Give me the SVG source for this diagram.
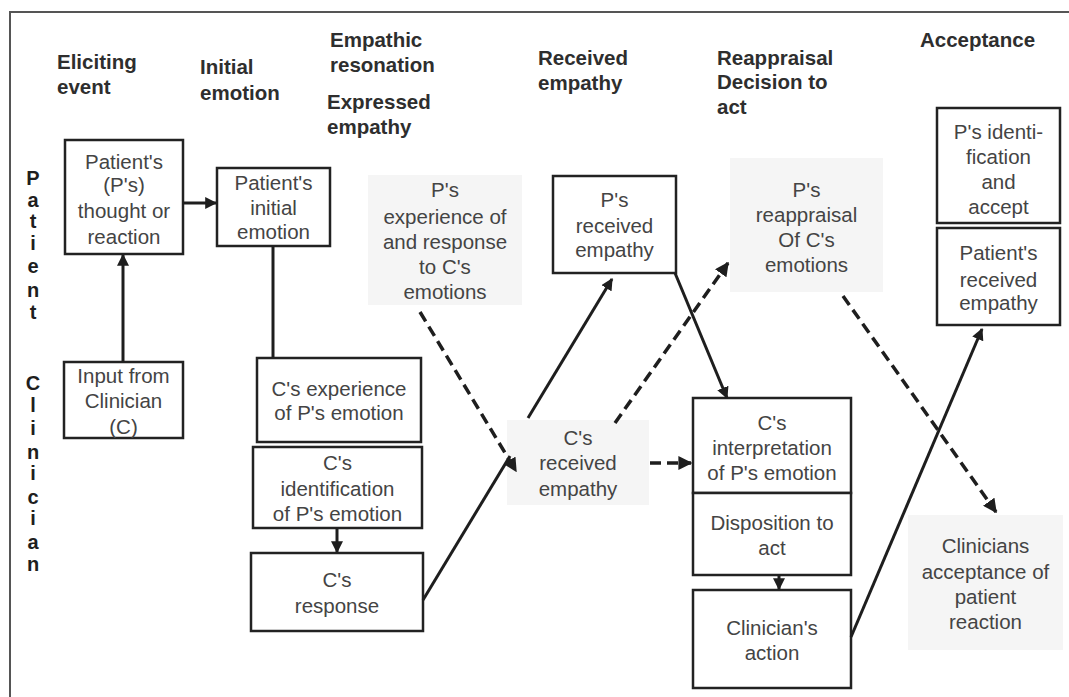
<svg xmlns="http://www.w3.org/2000/svg" width="1069" height="697" viewBox="0 0 1069 697">
<style>
.hd{font-family:"Liberation Sans",Arial,sans-serif;font-size:20.5px;font-weight:bold;fill:#2e2e2e}
.vt{font-family:"Liberation Sans",Arial,sans-serif;font-size:20px;font-weight:bold;fill:#1e1e1e;text-anchor:middle}
.t{font-family:"Liberation Sans",Arial,sans-serif;font-size:20.5px;fill:#444;text-anchor:middle}
.box{fill:#fff;stroke:#222;stroke-width:2.5}
.grey{fill:#f5f5f5;stroke:none}
.ln{fill:none;stroke:#1e1e1e;stroke-width:3}
.ds{fill:none;stroke:#1e1e1e;stroke-width:3.5;stroke-dasharray:11 6}
</style>
<defs>
<marker id="ah" viewBox="0 0 10 10" refX="9" refY="5" markerWidth="4" markerHeight="4" markerUnits="strokeWidth" orient="auto">
<path d="M0,0 L10,5 L0,10 z" fill="#1e1e1e"/>
</marker>
</defs>
<rect x="0" y="0" width="1069" height="697" fill="#fff"/>
<path d="M10,697 V12 H1069" fill="none" stroke="#555" stroke-width="2"/>

<g id="headers">
<text class="hd" x="57" y="69">Eliciting</text>
<text class="hd" x="57" y="94">event</text>
<text class="hd" x="200" y="74">Initial</text>
<text class="hd" x="200" y="100">emotion</text>
<text class="hd" x="330" y="47">Empathic</text>
<text class="hd" x="330" y="72">resonation</text>
<text class="hd" x="327" y="109">Expressed</text>
<text class="hd" x="327" y="134">empathy</text>
<text class="hd" x="538" y="65">Received</text>
<text class="hd" x="538" y="90">empathy</text>
<text class="hd" x="717" y="65">Reappraisal</text>
<text class="hd" x="717" y="89">Decision to</text>
<text class="hd" x="717" y="114">act</text>
<text class="hd" x="920" y="47">Acceptance</text>
</g>

<g id="lane-labels">
<text class="vt" x="33" y="185">P</text>
<text class="vt" x="33" y="207">a</text>
<text class="vt" x="33" y="228">t</text>
<text class="vt" x="33" y="250">i</text>
<text class="vt" x="33" y="273">e</text>
<text class="vt" x="33" y="297">n</text>
<text class="vt" x="33" y="319">t</text>
<text class="vt" x="33" y="390">C</text>
<text class="vt" x="33" y="412">l</text>
<text class="vt" x="33" y="435">i</text>
<text class="vt" x="33" y="459">n</text>
<text class="vt" x="33" y="480">i</text>
<text class="vt" x="33" y="504">c</text>
<text class="vt" x="33" y="525">i</text>
<text class="vt" x="33" y="549">a</text>
<text class="vt" x="33" y="571">n</text>
</g>

<g id="n-patient-thought">
<rect class="box" x="65" y="140" width="118" height="114"/>
<text class="t" x="124" y="169">Patient's</text>
<text class="t" x="124" y="192">(P's)</text>
<text class="t" x="124" y="218">thought or</text>
<text class="t" x="124" y="244">reaction</text>
</g>
<g id="n-initial-emotion">
<rect class="box" x="217" y="168" width="113" height="78"/>
<text class="t" x="273.5" y="190">Patient's</text>
<text class="t" x="273.5" y="215">initial</text>
<text class="t" x="273.5" y="239">emotion</text>
</g>
<g id="n-input-clinician">
<rect class="box" x="64" y="362" width="119" height="76"/>
<text class="t" x="123.5" y="383">Input from</text>
<text class="t" x="123.5" y="408">Clinician</text>
<text class="t" x="123.5" y="434">(C)</text>
</g>
<g id="n-c-experience">
<rect class="box" x="257" y="358" width="164" height="84"/>
<text class="t" x="339" y="396">C's experience</text>
<text class="t" x="339" y="420">of P's emotion</text>
</g>
<g id="n-c-identification">
<rect class="box" x="253" y="447" width="169" height="81"/>
<text class="t" x="337.5" y="470">C's</text>
<text class="t" x="337.5" y="496">identification</text>
<text class="t" x="337.5" y="521">of P's emotion</text>
</g>
<g id="n-c-response">
<rect class="box" x="251" y="553" width="172" height="78"/>
<text class="t" x="337" y="587">C's</text>
<text class="t" x="337" y="613">response</text>
</g>
<g id="n-p-experience">
<rect class="grey" x="368" y="175" width="154" height="130"/>
<text class="t" x="445" y="197">P's</text>
<text class="t" x="445" y="224">experience of</text>
<text class="t" x="445" y="249">and response</text>
<text class="t" x="445" y="274">to C's</text>
<text class="t" x="445" y="299">emotions</text>
</g>
<g id="n-p-received">
<rect class="box" x="553" y="176" width="123" height="97"/>
<text class="t" x="614.5" y="207">P's</text>
<text class="t" x="614.5" y="233">received</text>
<text class="t" x="614.5" y="257">empathy</text>
</g>
<g id="n-c-received">
<rect class="grey" x="507" y="420" width="142" height="85"/>
<text class="t" x="578" y="445">C's</text>
<text class="t" x="578" y="470">received</text>
<text class="t" x="578" y="496">empathy</text>
</g>
<g id="n-p-reappraisal">
<rect class="grey" x="730" y="158" width="153" height="134"/>
<text class="t" x="806.5" y="197">P's</text>
<text class="t" x="806.5" y="222">reappraisal</text>
<text class="t" x="806.5" y="247">Of C's</text>
<text class="t" x="806.5" y="272">emotions</text>
</g>
<g id="n-c-interpretation">
<rect class="box" x="693" y="398" width="158" height="95"/>
<text class="t" x="772" y="430">C's</text>
<text class="t" x="772" y="455">interpretation</text>
<text class="t" x="772" y="480">of P's emotion</text>
</g>
<g id="n-disposition">
<rect class="box" x="693" y="493" width="158" height="82"/>
<text class="t" x="772" y="530">Disposition to</text>
<text class="t" x="772" y="555">act</text>
</g>
<g id="n-clinician-action">
<rect class="box" x="693" y="590" width="158" height="98"/>
<text class="t" x="772" y="635">Clinician's</text>
<text class="t" x="772" y="660">action</text>
</g>
<g id="n-p-identification">
<rect class="box" x="937" y="108" width="123" height="115"/>
<text class="t" x="998.5" y="139">P's identi-</text>
<text class="t" x="998.5" y="164">fication</text>
<text class="t" x="998.5" y="189">and</text>
<text class="t" x="998.5" y="214">accept</text>
</g>
<g id="n-patient-received">
<rect class="box" x="937" y="228" width="123" height="97"/>
<text class="t" x="998.5" y="260">Patient's</text>
<text class="t" x="998.5" y="287">received</text>
<text class="t" x="998.5" y="310">empathy</text>
</g>
<g id="n-clinicians-acceptance">
<rect class="grey" x="908" y="515" width="155" height="135"/>
<text class="t" x="985.5" y="553">Clinicians</text>
<text class="t" x="985.5" y="579">acceptance of</text>
<text class="t" x="985.5" y="604">patient</text>
<text class="t" x="985.5" y="629">reaction</text>
</g>

<g id="connectors">
<line class="ln" x1="183" y1="203" x2="216" y2="203" marker-end="url(#ah)"/>
<line class="ln" x1="123" y1="362" x2="123" y2="255" marker-end="url(#ah)"/>
<line class="ln" x1="273" y1="246" x2="273" y2="358"/>
<line class="ln" x1="337" y1="528" x2="337" y2="552" marker-end="url(#ah)"/>
<line class="ln" x1="423" y1="600" x2="510" y2="456"/>
<line class="ds" x1="420" y1="312" x2="516" y2="471" marker-end="url(#ah)"/>
<line class="ln" x1="528" y1="418" x2="612" y2="279" marker-end="url(#ah)"/>
<line class="ln" x1="675" y1="273" x2="727" y2="398" marker-end="url(#ah)"/>
<line class="ds" x1="615" y1="423" x2="728" y2="263" marker-end="url(#ah)"/>
<line class="ds" x1="650" y1="463" x2="691" y2="463" marker-end="url(#ah)"/>
<line class="ds" x1="843" y1="296" x2="996" y2="512" marker-end="url(#ah)"/>
<line class="ln" x1="779" y1="575" x2="779" y2="589" marker-end="url(#ah)"/>
<line class="ln" x1="851" y1="637" x2="982" y2="329" marker-end="url(#ah)"/>
</g>
</svg>
